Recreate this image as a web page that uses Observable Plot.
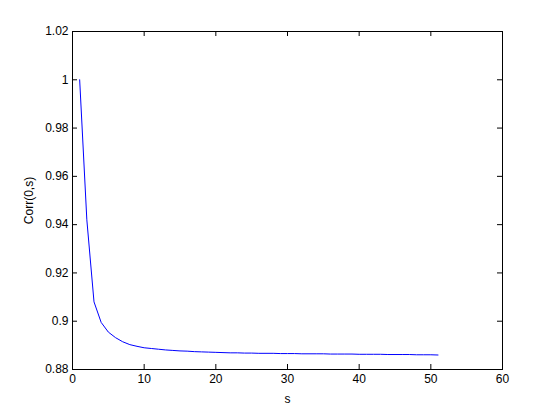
<!DOCTYPE html>
<html>
<head>
<meta charset="utf-8">
<script src="https://cdn.jsdelivr.net/npm/d3@7"></script>
<script src="https://cdn.jsdelivr.net/npm/@observablehq/plot@0.6"></script>
<style>
  html, body { margin: 0; padding: 0; background: white; }
</style>
</head>
<body>
<div id="chart"></div>
<script>
const sValues = [1,2,3,4,5,6,7,8,9,10,11,12,13,14,15,16,17,18,19,20,21,22,23,24,25,26,27,28,29,30,31,32,33,34,35,36,37,38,39,40,41,42,43,44,45,46,47,48,49,50,51];
const corrValues = [1.0, 0.942, 0.908, 0.8995, 0.8955, 0.8932, 0.8915, 0.8903, 0.8896, 0.8890,
  0.8887, 0.8884, 0.8881, 0.8879, 0.8877, 0.8876, 0.8874, 0.8873, 0.8872, 0.8871,
  0.8870, 0.8869, 0.8869, 0.8868, 0.8868, 0.8867, 0.8867, 0.8867, 0.8866, 0.8866,
  0.8866, 0.8865, 0.8865, 0.8865, 0.8865, 0.8864, 0.8864, 0.8864, 0.8864, 0.8863,
  0.8863, 0.8863, 0.8863, 0.8862, 0.8862, 0.8862, 0.8862, 0.8861, 0.8861, 0.8861, 0.8860];
const xTicks = [0, 10, 20, 30, 40, 50, 60];
const yTicks = [0.88, 0.9, 0.92, 0.94, 0.96, 0.98, 1, 1.02];
const xLabel = "s";
const yLabel = "Corr(0,s)";

const data = sValues.map((s, i) => ({s, c: corrValues[i]}));

const W = 554, H = 415;
const mL = 72, mR = 52, mT = 31, mB = 46;
const plotW = W - mL - mR, plotH = H - mT - mB;
const tk = 5;
const fmt = d => String(+d.toFixed(2));

const chart = Plot.plot({
  width: W,
  height: H,
  marginLeft: mL,
  marginRight: mR,
  marginTop: mT,
  marginBottom: mB,
  style: {fontFamily: "'Liberation Sans', Arial, sans-serif", fontSize: "12px", background: "white", color: "black"},
  x: {domain: [0, 60]},
  y: {domain: [0.88, 1.02]},
  marks: [
    Plot.line(data, {x: "s", y: "c", stroke: "#0000ff", strokeWidth: 1}),
    Plot.tickX(xTicks, {x: d => d, insetTop: plotH - tk, stroke: "black"}),
    Plot.tickX(xTicks, {x: d => d, insetBottom: plotH - tk, stroke: "black"}),
    Plot.tickY(yTicks, {y: d => d, insetRight: plotW - tk, stroke: "black"}),
    Plot.tickY(yTicks, {y: d => d, insetLeft: plotW - tk, stroke: "black"}),
    Plot.frame({stroke: "black"}),
    Plot.axisX({ticks: xTicks, tickSize: 0, tickPadding: 5, label: xLabel, labelAnchor: "center", labelArrow: "none", labelOffset: 33, fill: "black"}),
    Plot.axisY({ticks: yTicks, tickSize: 0, tickPadding: 4, tickFormat: fmt, label: yLabel, labelAnchor: "center", labelArrow: "none", labelOffset: 48, fill: "black"})
  ]
});
document.getElementById("chart").appendChild(chart);
</script>
</body>
</html>
